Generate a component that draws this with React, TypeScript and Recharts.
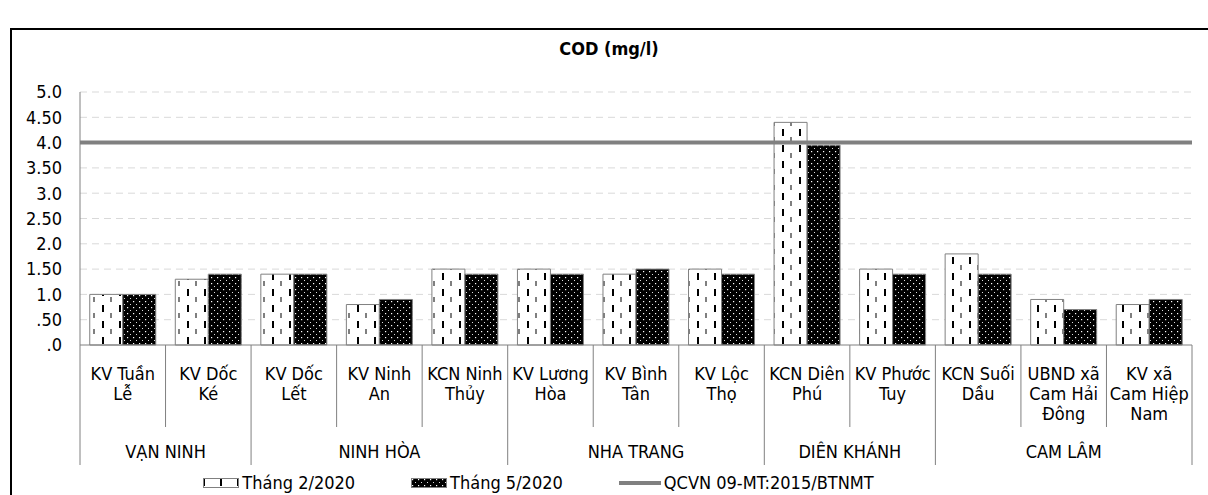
import React from "react";
import {
  BarChart,
  Bar,
  XAxis,
  YAxis,
  CartesianGrid,
  ReferenceLine,
} from "recharts";

// category labels, already broken into the lines used on the axis
const categoryLines = [
  ["KV Tuần", "Lễ"],
  ["KV Dốc", "Ké"],
  ["KV Dốc", "Lết"],
  ["KV Ninh", "An"],
  ["KCN Ninh", "Thủy"],
  ["KV Lương", "Hòa"],
  ["KV Bình", "Tân"],
  ["KV Lộc", "Thọ"],
  ["KCN Diên", "Phú"],
  ["KV Phước", "Tuy"],
  ["KCN Suối", "Dầu"],
  ["UBND xã", "Cam Hải", "Đông"],
  ["KV xã", "Cam Hiệp", "Nam"],
];

const feb2020 = [1.0, 1.3, 1.4, 0.8, 1.5, 1.5, 1.4, 1.5, 4.4, 1.5, 1.8, 0.9, 0.8];
const may2020 = [1.0, 1.4, 1.4, 0.9, 1.4, 1.4, 1.5, 1.4, 3.95, 1.4, 1.4, 0.7, 0.9];

const groups = [
  { name: "VẠN NINH", count: 2 },
  { name: "NINH HÒA", count: 3 },
  { name: "NHA TRANG", count: 3 },
  { name: "DIÊN KHÁNH", count: 2 },
  { name: "CAM LÂM", count: 3 },
];

const yTicks = [0, 0.5, 1, 1.5, 2, 2.5, 3, 3.5, 4, 4.5, 5];
const yTickLabels = [".0", ".50", "1.0", "1.50", "2.0", "2.50", "3.0", "3.50", "4.0", "4.50", "5.0"];

const qcvnLimit = 4;

const seriesNames = ["Tháng 2/2020", "Tháng 5/2020", "QCVN 09-MT:2015/BTNMT"];

const FONT = '"DejaVu Sans Condensed", "DejaVu Sans", sans-serif';
const W = 1208;
const H = 495;
const X_AXIS_H = 150;
const MARGIN = { top: 92, right: 16, bottom: 0, left: 20 };
const Y_AXIS_W = 60;
const PLOT_W = W - MARGIN.left - MARGIN.right - Y_AXIS_W;
const BAND = PLOT_W / categoryLines.length;

const chartData = categoryLines.map((lines, i) => ({
  label: lines.join(" "),
  feb: feb2020[i],
  may: may2020[i],
}));

// index of first category of each group
const groupStarts: number[] = [];
groups.reduce((acc, g) => {
  groupStarts.push(acc);
  return acc + g.count;
}, 0);

function Patterns({ prefix }: { prefix: string }) {
  return (
    <defs>
      <pattern id={`${prefix}feb`} width={17} height={16} patternUnits="userSpaceOnUse">
        <rect width={17} height={16} fill="#fff" />
        <rect x={0} y={1} width={2} height={7} fill="#000" />
        <rect x={8.5} y={9} width={1} height={5} fill="#000" />
      </pattern>
      <pattern id={`${prefix}may`} width={6} height={6} patternUnits="userSpaceOnUse">
        <rect width={6} height={6} fill="#000" />
        <rect x={1} y={1} width={1.2} height={1.2} fill="#fff" />
        <rect x={4} y={4} width={1} height={1} fill="#ddd" />
      </pattern>
    </defs>
  );
}

const CategoryTick = (props: any) => {
  const { x, y, index } = props;
  const lines = categoryLines[index];
  const left = x - BAND / 2;
  const g = groupStarts.indexOf(index);
  const isLast = index === categoryLines.length - 1;
  return (
    <g>
      <line x1={left} y1={y} x2={left} y2={y + (g >= 0 ? 120 : 82)} stroke="#808080" />
      {isLast && (
        <line x1={x + BAND / 2} y1={y} x2={x + BAND / 2} y2={y + 120} stroke="#808080" />
      )}
      {lines.map((t, i) => (
        <text
          key={i}
          x={x}
          y={y + 28 + i * 20}
          textAnchor="middle"
          dominantBaseline="central"
          fontSize={18}
          fill="#000"
        >
          {t}
        </text>
      ))}
      {g >= 0 && (
        <text
          x={left + (groups[g].count * BAND) / 2}
          y={y + 106}
          textAnchor="middle"
          dominantBaseline="central"
          fontSize={18}
          fill="#000"
        >
          {groups[g].name}
        </text>
      )}
    </g>
  );
};

function LegendSwatch({ kind }: { kind: string }) {
  if (kind === "line") {
    return (
      <svg width={42} height={10} style={{ display: "block" }}>
        <line x1={0} y1={5} x2={42} y2={5} stroke="#808080" strokeWidth={4} />
      </svg>
    );
  }
  return (
    <svg width={36} height={10} style={{ display: "block" }}>
      <Patterns prefix={`lg-${kind}-`} />
      <rect
        x={0.5}
        y={0.5}
        width={35}
        height={9}
        fill={`url(#lg-${kind}-${kind})`}
        stroke="#808080"
      />
    </svg>
  );
}

export default function App() {
  const kinds = ["feb", "may", "line"];
  return (
    <div
      style={{
        position: "absolute",
        left: 0,
        top: 0,
        width: W,
        height: H,
        overflow: "hidden",
        background: "#fff",
        fontFamily: FONT,
      }}
    >
      <div
        style={{
          position: "absolute",
          left: 10,
          top: 28,
          width: 1300,
          height: 600,
          borderLeft: "2px solid #000",
          borderTop: "2px solid #000",
        }}
      />
      <div
        style={{
          position: "absolute",
          left: 0,
          width: 1218,
          top: 38,
          textAlign: "center",
          fontWeight: "bold",
          fontSize: 18,
          color: "#000",
        }}
      >
        COD (mg/l)
      </div>
      <div style={{ position: "absolute", left: 0, top: 0 }}>
        <BarChart
          width={W}
          height={H}
          data={chartData}
          margin={MARGIN}
          barCategoryGap="11.4%"
          barGap={0}
          style={{ fontFamily: FONT }}
        >
          <Patterns prefix="ch-" />
          <CartesianGrid
            vertical={false}
            stroke="#d9d9d9"
            strokeDasharray="7 5"
            horizontalValues={yTicks.slice(1)}
          />
          <XAxis
            dataKey="label"
            interval={0}
            tickLine={false}
            tickSize={0}
            tickMargin={0}
            height={X_AXIS_H}
            axisLine={{ stroke: "#808080" }}
            tick={CategoryTick}
          />
          <YAxis
            width={Y_AXIS_W}
            domain={[0, 5]}
            ticks={yTicks}
            interval={0}
            tickLine={false}
            tickSize={0}
            tickMargin={18}
            axisLine={{ stroke: "#808080" }}
            tick={{ fill: "#000", fontSize: 18 }}
            tickFormatter={(v: number) => yTickLabels[yTicks.indexOf(v)]}
          />
          <Bar
            dataKey="feb"
            name={seriesNames[0]}
            fill="url(#ch-feb)"
            stroke="#808080"
            strokeWidth={1}
            isAnimationActive={false}
          />
          <Bar
            dataKey="may"
            name={seriesNames[1]}
            fill="url(#ch-may)"
            stroke="#808080"
            strokeWidth={1}
            isAnimationActive={false}
          />
          <ReferenceLine y={qcvnLimit} stroke="#808080" strokeWidth={4} />
        </BarChart>
      </div>
      <div
        style={{
          position: "absolute",
          left: 0,
          width: 1077,
          top: 472,
          display: "flex",
          justifyContent: "center",
          alignItems: "center",
          fontSize: 18,
          color: "#000",
          lineHeight: "22px",
        }}
      >
        {kinds.map((k, i) => (
          <div
            key={k}
            style={{
              display: "flex",
              alignItems: "center",
              marginRight: i < kinds.length - 1 ? 56 : 0,
            }}
          >
            <LegendSwatch kind={k} />
            <span style={{ marginLeft: 3 }}>{seriesNames[i]}</span>
          </div>
        ))}
      </div>
    </div>
  );
}
